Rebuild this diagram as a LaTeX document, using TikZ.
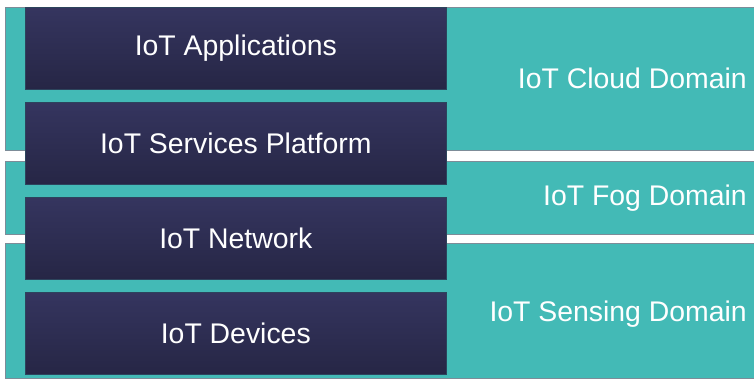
\documentclass[tikz,border=0pt]{standalone}
\usepackage{fontspec}
\setmainfont{Liberation Sans}
\definecolor{teal0}{HTML}{43BAB6}
\definecolor{navytop}{HTML}{35355F}
\definecolor{navybot}{HTML}{262645}
\definecolor{edgegray}{HTML}{7D8C98}
\begin{document}
\begin{tikzpicture}[x=1pt,y=-1pt,
  domainbox/.style={fill=teal0,draw=edgegray,line width=0.7pt},
  layer/.style={top color=navytop,bottom color=navybot,draw=navybot!80!teal0,line width=0.6pt,
    minimum width=421pt,minimum height=82pt,inner sep=0pt,text=white,font=\fontsize{28.4}{32}\selectfont,anchor=north west},
  dlabel/.style={text=white,font=\fontsize{28.4}{32}\selectfont,anchor=east,inner sep=0pt}]
\useasboundingbox (0,0) rectangle (754,383);
\fill[white] (0,0) rectangle (754,383);
% domains
\draw[domainbox] (5,7) rectangle (756,150);
\draw[domainbox] (5,161) rectangle (756,234);
\draw[domainbox] (5,243) rectangle (756,378);
% layers
\node[layer] (app) at (25,7) {IoT Applications};
\node[layer] (svc) at (25,102) {IoT Services Platform};
\node[layer] (net) at (25,197) {IoT Network};
\node[layer] (dev) at (25,292) {IoT Devices};
% domain labels
\node[dlabel] (cloud) at (747,78) {IoT Cloud Domain};
\node[dlabel] (fog) at (747,198) {IoT Fog Domain};
\node[dlabel] (sense) at (747,314) {IoT Sensing Domain};
\end{tikzpicture}
\end{document}
